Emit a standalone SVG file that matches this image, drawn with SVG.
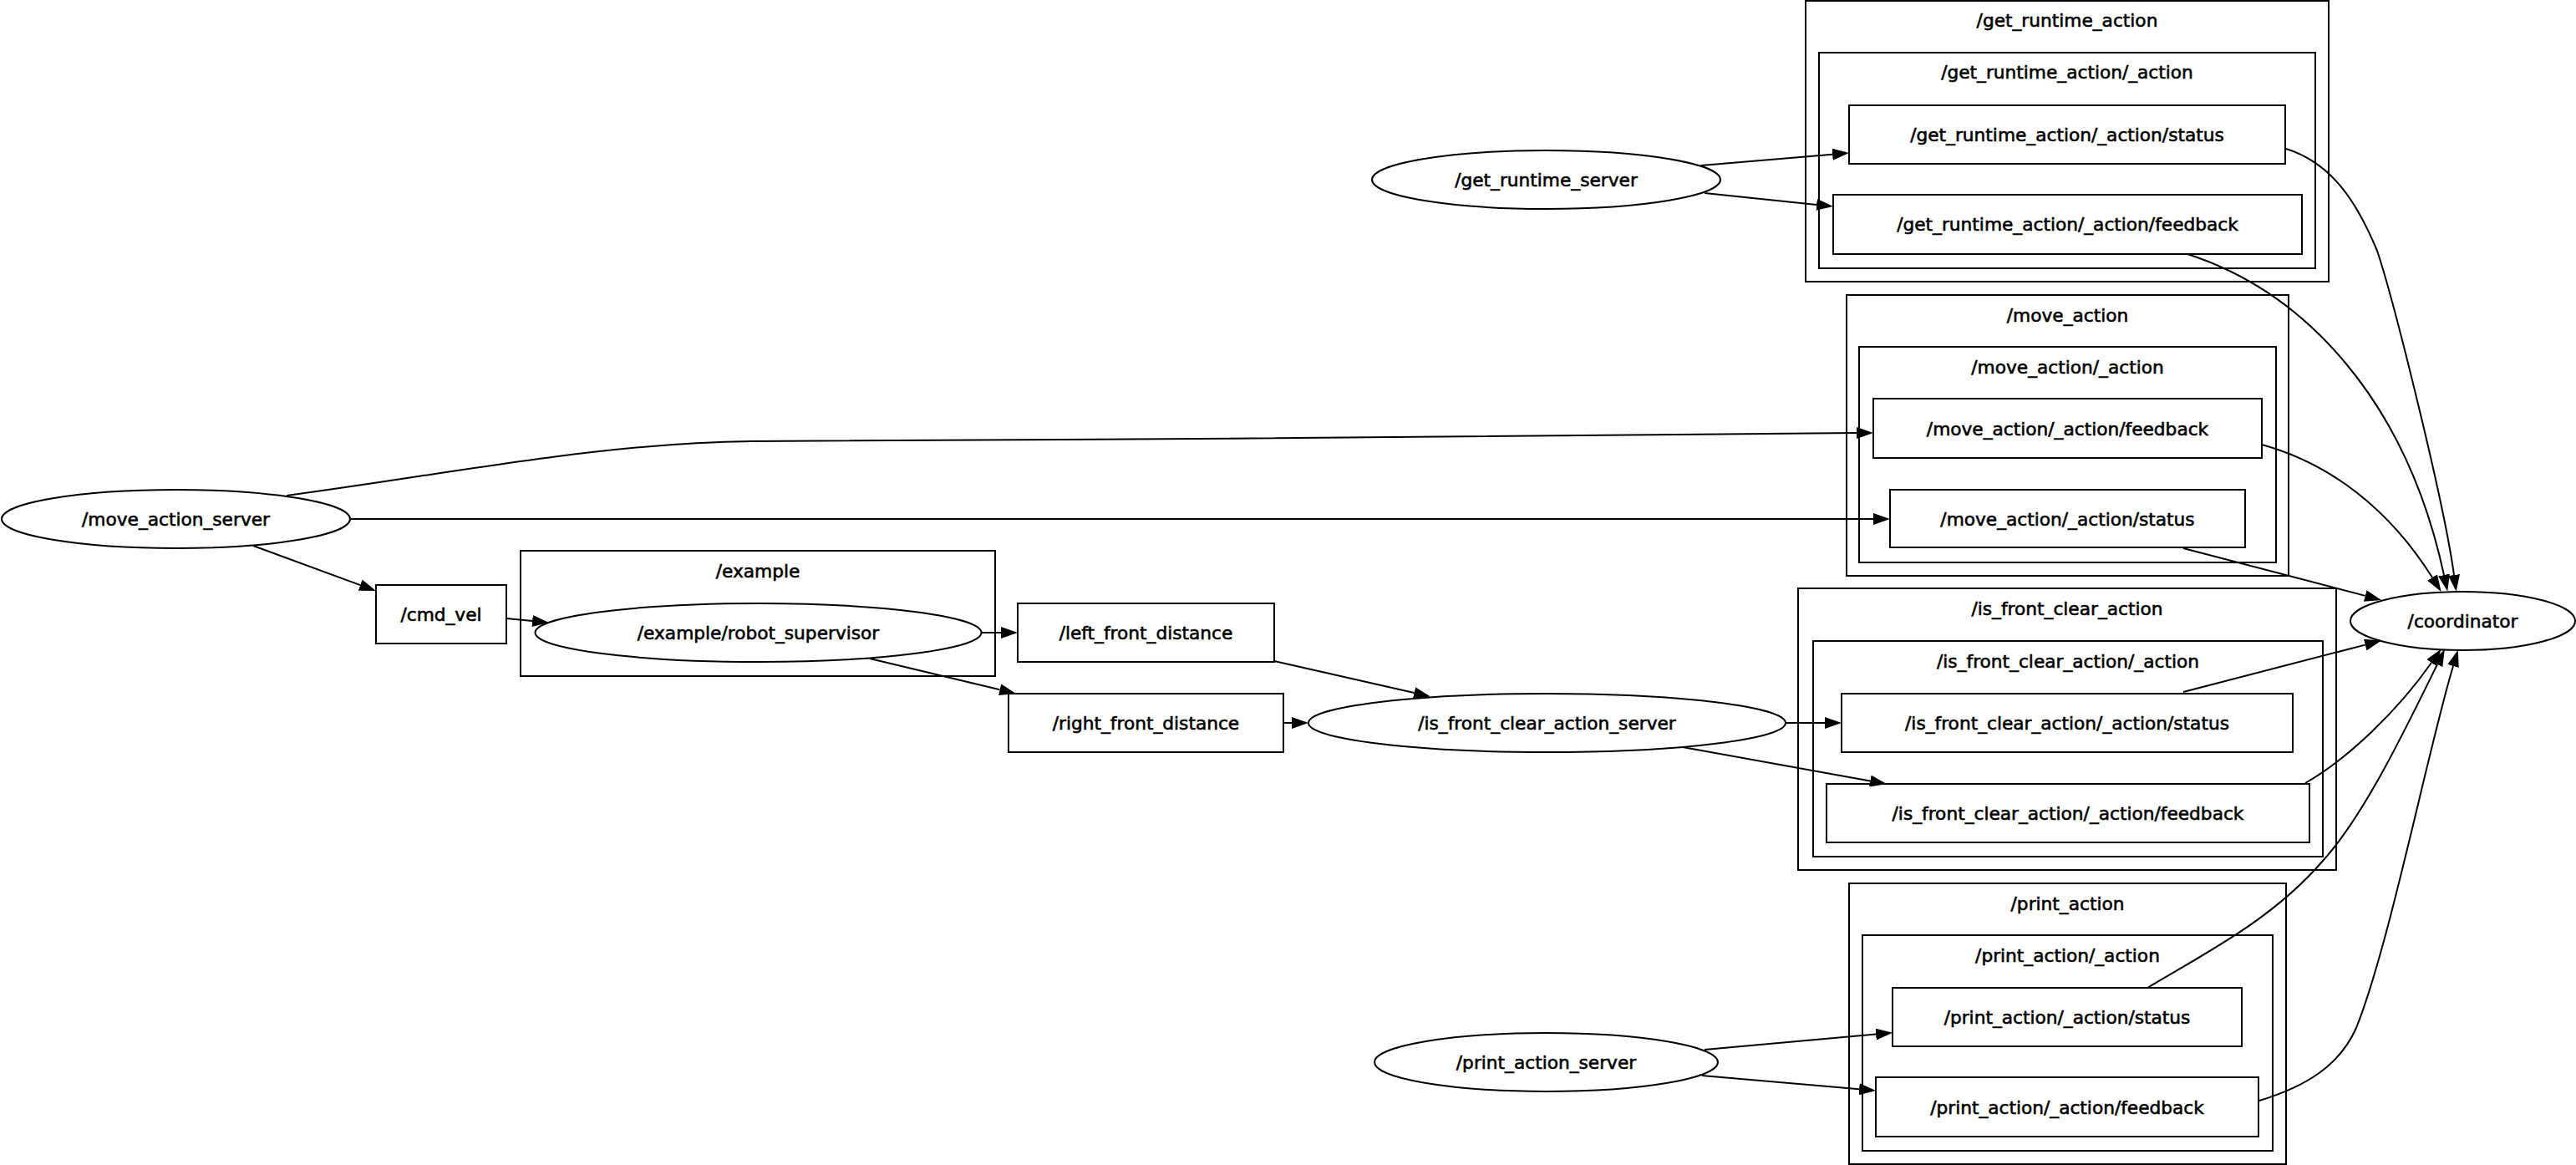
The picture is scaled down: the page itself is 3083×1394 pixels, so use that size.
<svg xmlns="http://www.w3.org/2000/svg" width="3083" height="1394" viewBox="0 0 3083 1394">
<defs>
<style>
.cl{fill:none;stroke:#000;stroke-width:2}
.nd{fill:none;stroke:#000;stroke-width:2}
.ed{fill:none;stroke:#000;stroke-width:2}
text{font-family:"DejaVu Sans","Liberation Sans",sans-serif;font-size:21.7px;text-anchor:middle;fill:#000;stroke:#000;stroke-width:0.6px}
</style>
<marker id="ah" viewBox="0 -7 20 14" refX="0" refY="0" markerWidth="20" markerHeight="14" markerUnits="userSpaceOnUse" orient="auto">
<path d="M0,-7 L20,0 L0,7 z" fill="#000"/>
</marker>
</defs>
<rect x="0" y="0" width="3083" height="1394" fill="#fff"/>

<g id="cluster_get_runtime_action">
<rect class="cl" x="2161" y="1" width="626" height="336"/>
<text x="2474" y="32">/get_runtime_action</text>
</g>
<g id="cluster_get_runtime_action__action">
<rect class="cl" x="2177" y="63" width="594" height="258"/>
<text x="2474" y="94">/get_runtime_action/_action</text>
</g>
<g id="cluster_move_action">
<rect class="cl" x="2210" y="353" width="529" height="336"/>
<text x="2474.5" y="384.5">/move_action</text>
</g>
<g id="cluster_move_action__action">
<rect class="cl" x="2225" y="415" width="499" height="258"/>
<text x="2474.5" y="446.5">/move_action/_action</text>
</g>
<g id="cluster_example">
<rect class="cl" x="623" y="659" width="568" height="150"/>
<text x="907" y="690.5">/example</text>
</g>
<g id="cluster_is_front_clear_action">
<rect class="cl" x="2152" y="704" width="644" height="337"/>
<text x="2474" y="735.5">/is_front_clear_action</text>
</g>
<g id="cluster_is_front_clear_action__action">
<rect class="cl" x="2170" y="767" width="610" height="258"/>
<text x="2475" y="798.5">/is_front_clear_action/_action</text>
</g>
<g id="cluster_print_action">
<rect class="cl" x="2213" y="1057" width="523" height="336"/>
<text x="2474.5" y="1088.5">/print_action</text>
</g>
<g id="cluster_print_action__action">
<rect class="cl" x="2229" y="1119" width="491" height="258"/>
<text x="2474.5" y="1150.5">/print_action/_action</text>
</g>

<g id="edges">
<path class="ed" marker-end="url(#ah)" d="M2036,198 L2193.1,184.7"/>
<path class="ed" marker-end="url(#ah)" d="M2040,231 L2174.1,244.9"/>
<path class="ed" marker-end="url(#ah)" d="M343,593 C550,565 720,530 900,528 C1300,528 1900,520 2222,518"/>
<path class="ed" marker-end="url(#ah)" d="M419,621 L2242,621"/>
<path class="ed" marker-end="url(#ah)" d="M303,653 L431.2,700.1"/>
<path class="ed" marker-end="url(#ah)" d="M606,740 L637.1,743"/>
<path class="ed" marker-end="url(#ah)" d="M1175,757 L1198,757"/>
<path class="ed" marker-end="url(#ah)" d="M1041,788 L1196.6,825.3"/>
<path class="ed" marker-end="url(#ah)" d="M1525,791 L1692.5,829"/>
<path class="ed" marker-end="url(#ah)" d="M1536,865 L1546,865"/>
<path class="ed" marker-end="url(#ah)" d="M2137,865 L2184,865"/>
<path class="ed" marker-end="url(#ah)" d="M2014,894 L2238.3,934.5"/>
<path class="ed" marker-end="url(#ah)" d="M2040,1256 L2245.1,1237.6"/>
<path class="ed" marker-end="url(#ah)" d="M2037,1287 L2225.1,1303.3"/>
<path class="ed" marker-end="url(#ah)" d="M2736,178 C2790,195 2820,240 2845,300 C2865,360 2925,600 2937,688"/>
<path class="ed" marker-end="url(#ah)" d="M2618,304 C2760,350 2880,480 2925,688"/>
<path class="ed" marker-end="url(#ah)" d="M2707,532 C2790,555 2860,610 2911,691"/>
<path class="ed" marker-end="url(#ah)" d="M2613,656 L2830.7,712.9"/>
<path class="ed" marker-end="url(#ah)" d="M2613,828 L2830.7,771.6"/>
<path class="ed" marker-end="url(#ah)" d="M2759,937 C2810,908 2870,850 2910,793"/>
<path class="ed" marker-end="url(#ah)" d="M2570,1182 C2640,1140 2720,1100 2780,1030 C2830,975 2880,870 2917,795"/>
<path class="ed" marker-end="url(#ah)" d="M2704,1317 C2760,1300 2800,1275 2820,1230 C2860,1130 2905,900 2936,797"/>
</g>

<g id="node_get_runtime_server">
<ellipse class="nd" cx="1850.5" cy="215" rx="208.5" ry="35"/>
<text x="1850.5" y="222.5">/get_runtime_server</text>
</g>
<g id="node_get_runtime_status">
<rect class="nd" x="2213" y="126" width="522" height="70"/>
<text x="2474" y="169">/get_runtime_action/_action/status</text>
</g>
<g id="node_get_runtime_feedback">
<rect class="nd" x="2194" y="233" width="561" height="71"/>
<text x="2474.5" y="276">/get_runtime_action/_action/feedback</text>
</g>
<g id="node_move_feedback">
<rect class="nd" x="2242" y="477" width="465" height="71"/>
<text x="2474.5" y="520.5">/move_action/_action/feedback</text>
</g>
<g id="node_move_status">
<rect class="nd" x="2262" y="586" width="425" height="69"/>
<text x="2474.5" y="628.5">/move_action/_action/status</text>
</g>
<g id="node_move_action_server">
<ellipse class="nd" cx="210.5" cy="621" rx="208.5" ry="35"/>
<text x="210.5" y="629">/move_action_server</text>
</g>
<g id="node_cmd_vel">
<rect class="nd" x="450" y="700" width="156" height="70"/>
<text x="528" y="743">/cmd_vel</text>
</g>
<g id="node_robot_supervisor">
<ellipse class="nd" cx="907.5" cy="757" rx="267" ry="35"/>
<text x="907.5" y="765">/example/robot_supervisor</text>
</g>
<g id="node_left_front_distance">
<rect class="nd" x="1218" y="722" width="307" height="70"/>
<text x="1371.5" y="765">/left_front_distance</text>
</g>
<g id="node_right_front_distance">
<rect class="nd" x="1207" y="830" width="329" height="70"/>
<text x="1371.5" y="873">/right_front_distance</text>
</g>
<g id="node_is_front_clear_action_server">
<ellipse class="nd" cx="1851.5" cy="865" rx="285.5" ry="35"/>
<text x="1851.5" y="873">/is_front_clear_action_server</text>
</g>
<g id="node_is_front_status">
<rect class="nd" x="2204" y="830" width="540" height="70"/>
<text x="2474" y="873">/is_front_clear_action/_action/status</text>
</g>
<g id="node_is_front_feedback">
<rect class="nd" x="2186" y="938" width="578" height="70"/>
<text x="2475" y="981">/is_front_clear_action/_action/feedback</text>
</g>
<g id="node_coordinator">
<ellipse class="nd" cx="2947.5" cy="743" rx="134.5" ry="35"/>
<text x="2947.5" y="751">/coordinator</text>
</g>
<g id="node_print_status">
<rect class="nd" x="2265" y="1182" width="418" height="70"/>
<text x="2474" y="1225">/print_action/_action/status</text>
</g>
<g id="node_print_feedback">
<rect class="nd" x="2245" y="1289" width="458" height="71"/>
<text x="2474" y="1332.5">/print_action/_action/feedback</text>
</g>
<g id="node_print_action_server">
<ellipse class="nd" cx="1850.5" cy="1271" rx="205.5" ry="35"/>
<text x="1850.5" y="1279">/print_action_server</text>
</g>
</svg>
